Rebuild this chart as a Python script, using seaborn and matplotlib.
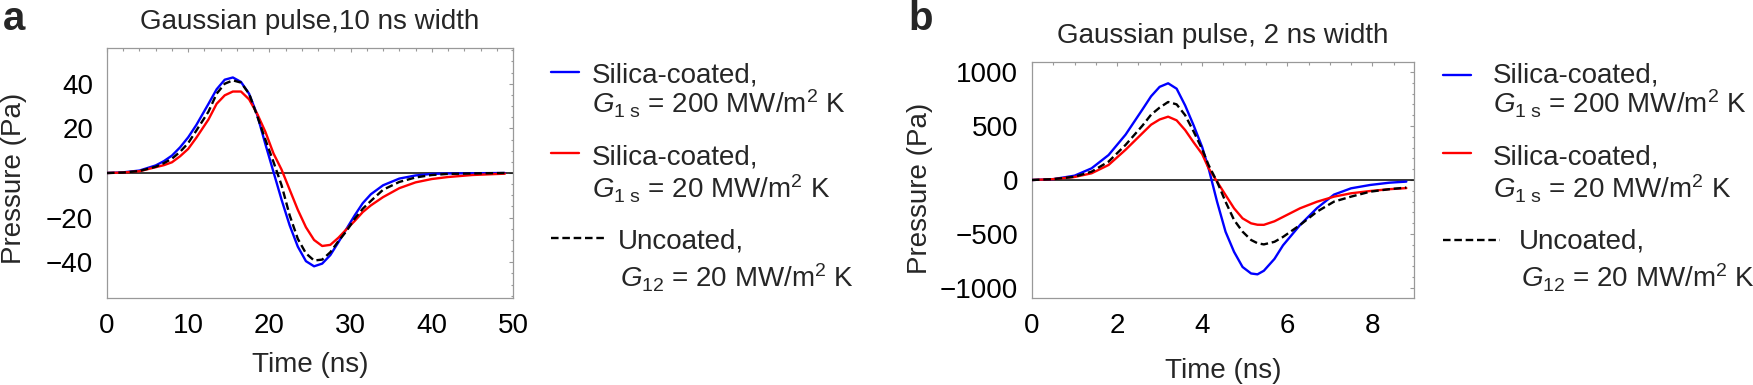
import matplotlib
matplotlib.use("Agg")
import numpy as np
import pandas as pd
import seaborn as sns
import matplotlib.pyplot as plt
from matplotlib.ticker import MultipleLocator
from matplotlib.lines import Line2D

# ---------------- data ----------------
# Panel a: Gaussian pulse, 10 ns width
time_a = [0, 2, 4, 6, 7, 8, 9, 10, 11,
          12.5, 13.5, 14.5, 15.5, 16.5, 17.5, 18.5, 19.5, 20.5,
          21.5, 22.5, 23.5, 24.5, 25.5, 26.5, 27.5, 28.5, 29.5, 30.5,
          31.5, 32.5, 34, 36, 38, 40, 42, 45, 49]
blue_a = [0, 0.3, 1.1, 3.4, 5.3, 7.8, 11.5, 16, 21.5,
          31, 37.5, 41.8, 42.8, 40.8, 35.5, 26, 13, 0.5,
          -12, -23.5, -33, -39.5, -41.8, -40.6, -36.8, -31, -25, -19,
          -13.5, -9.5, -5.5, -2.5, -1.1, -0.4, -0.2, -0.1, 0]
red_a = [0, 0.2, 0.8, 2.6, 3.5, 4.8, 7.5, 10.8, 15.8,
         24, 31, 34.8, 36.5, 36.5, 33, 26.5, 18.5, 8.8,
         1.5, -7.5, -16.5, -24.3, -30, -32.7, -32.2, -29, -25.2, -21.5,
         -17.5, -14.5, -10.8, -6.8, -4.2, -2.7, -1.8, -0.9, -0.3]
black_a = [0, 0.2, 0.9, 2.8, 4.4, 6.4, 9.5, 13.4, 19,
           27.5, 35.5, 40, 41.5, 40.5, 35.5, 25.5, 15, 5,
           -5.5, -19, -29.5, -36, -39.2, -38.8, -35.5, -30.5, -26, -20.5,
           -16, -12.5, -7.5, -4, -2, -0.9, -0.4, -0.2, 0]

# Panel b: Gaussian pulse, 2 ns width
time_b = [0, 0.5, 1.0, 1.4, 1.8, 2.2, 2.6, 2.8, 3.0, 3.2, 3.4, 3.6, 3.8, 4.0, 4.15, 4.35,
          4.55, 4.75, 4.95, 5.15, 5.3, 5.45, 5.7, 5.9, 6.3, 6.7, 7.1, 7.5, 7.95, 8.4, 8.8]
blue_b = [0, 8, 40, 108, 231, 420, 655, 775, 862, 895, 845, 690, 505, 305, 110, -200,
          -479, -665, -805, -865, -873, -840, -730, -605, -417, -260, -135, -77, -46, -25, -15]
red_b = [0, 8, 28, 62, 139, 280, 435, 512, 560, 586, 552, 462, 348, 240, 110, -15,
         -139, -262, -355, -401, -414, -415, -382, -342, -262, -201, -154, -123, -102, -85, -75]
black_b = [0, 8, 30, 77, 170, 325, 505, 605, 670, 722, 700, 600, 448, 285, 139, -15,
           -201, -370, -478, -555, -585, -596, -572, -527, -417, -293, -200, -154, -108, -85, -70]

titles = ["Gaussian pulse,10 ns width", "Gaussian pulse, 2 ns width"]
panel_letters = ["a", "b"]
legend_line1 = ["Silica-coated,", "Silica-coated,", "Uncoated,"]
legend_line2 = [r"$G_{1\ \mathrm{s}}$ = 200 MW/m$^{2}$ K",
                r"$G_{1\ \mathrm{s}}$ = 20 MW/m$^{2}$ K",
                r"$G_{12}$ = 20 MW/m$^{2}$ K"]

# ---------------- style ----------------
sns.set_style("white")
plt.rcParams["font.family"] = ["Liberation Sans", "DejaVu Sans"]
plt.rcParams["mathtext.fontset"] = "custom"
plt.rcParams["mathtext.rm"] = "Liberation Sans"
plt.rcParams["mathtext.it"] = "Liberation Sans:italic"
plt.rcParams["mathtext.bf"] = "Liberation Sans:bold"
plt.rcParams["axes.unicode_minus"] = True

W, H = 1753, 385
fig = plt.figure(figsize=(W / 100, H / 100), dpi=100)
fig.patch.set_facecolor("white")

def px(x0, y0, x1, y1):
    return [x0 / W, 1 - y1 / H, (x1 - x0) / W, (y1 - y0) / H]

axA = fig.add_axes(px(107, 48, 513, 298))
axB = fig.add_axes(px(1032, 62, 1414, 298))

BLUE, RED, BLACK = "#0000ff", "#ff0000", "#000000"
LW = 1.7
DASH = (0, (3.2, 1.6))
FS = 20
GRAY = "#999999"

def draw(ax, t, b, r, k):
    ax.axhline(0, color="black", lw=1.1, zorder=1)
    df = pd.DataFrame({"t": t, "blue": b, "red": r, "black": k})
    sns.lineplot(data=df, x="t", y="blue", ax=ax, color=BLUE, lw=LW, estimator=None, sort=False, zorder=3)
    sns.lineplot(data=df, x="t", y="red", ax=ax, color=RED, lw=LW, estimator=None, sort=False, zorder=3)
    sns.lineplot(data=df, x="t", y="black", ax=ax, color=BLACK, lw=LW, linestyle=DASH,
                 estimator=None, sort=False, zorder=4)

draw(axA, time_a, blue_a, red_a, black_a)
draw(axB, time_b, blue_b, red_b, black_b)

axA.set_xlim(0, 50)
axA.set_ylim(-56, 56)
axA.xaxis.set_major_locator(MultipleLocator(10))
axA.xaxis.set_minor_locator(MultipleLocator(2))
axA.yaxis.set_major_locator(MultipleLocator(20))
axA.yaxis.set_minor_locator(MultipleLocator(5))

axB.set_xlim(0, 8.98)
axB.set_ylim(-1092, 1092)
axB.xaxis.set_major_locator(MultipleLocator(2))
axB.xaxis.set_minor_locator(MultipleLocator(0.5))
axB.yaxis.set_major_locator(MultipleLocator(500))
axB.yaxis.set_minor_locator(MultipleLocator(100))

for ax, title in zip([axA, axB], titles):
    ax.set_facecolor("white")
    for s in ax.spines.values():
        s.set_color(GRAY)
        s.set_linewidth(0.9)
    ax.tick_params(which="both", direction="in", top=True, right=True,
                   color=GRAY, labelsize=FS, labelcolor="black", width=0.8)
    ax.tick_params(which="major", length=3.2, pad=10)
    ax.tick_params(axis="x", which="major", pad=11)
    ax.tick_params(which="minor", length=1.8)
    ax.set_title(title, fontsize=FS, pad=14)
    ax.set_xlabel("Time (ns)", fontsize=FS)
    ax.set_ylabel("Pressure (Pa)", fontsize=FS)

axA.xaxis.set_label_coords(0.5, -0.216)
axB.xaxis.set_label_coords(0.5, -0.254)
axA.yaxis.set_label_coords(-0.197, 0.478)
axB.yaxis.set_label_coords(-0.259, 0.464)

# panel letters
fig.text(3 / W, 1 - 30 / H, panel_letters[0], fontsize=29, fontweight="bold", va="baseline")
fig.text(908 / W, 1 - 30 / H, panel_letters[1], fontsize=29, fontweight="bold", va="baseline")

# legends (drawn beside each panel)
def legend(x_line0, x_text, x_line_dash_end, x_text_dash, ys_line, ys_base1, ys_base2):
    colors = [BLUE, RED, BLACK]
    styles = ["-", "-", DASH]
    for i in range(3):
        x1 = x_line0 + 28 if i < 2 else x_line_dash_end
        fig.add_artist(Line2D([x_line0 / W, x1 / W], [1 - ys_line[i] / H] * 2,
                              transform=fig.transFigure, color=colors[i], lw=LW,
                              linestyle=styles[i]))
        xt = x_text if i < 2 else x_text_dash
        fig.text(xt / W, 1 - ys_base1[i] / H, legend_line1[i], fontsize=FS, va="baseline")
        fig.text((xt + (0 if i < 2 else 2)) / W, 1 - ys_base2[i] / H, legend_line2[i],
                 fontsize=FS, va="baseline")

legend(551, 592, 607, 618, [72, 153, 237.5], [83, 165, 248], [114, 199, 287])
legend(1443, 1493, 1500, 1519, [75, 152.5, 240], [83, 165, 248], [114, 199, 287])

fig.savefig("out.png", dpi=100, facecolor="white")
